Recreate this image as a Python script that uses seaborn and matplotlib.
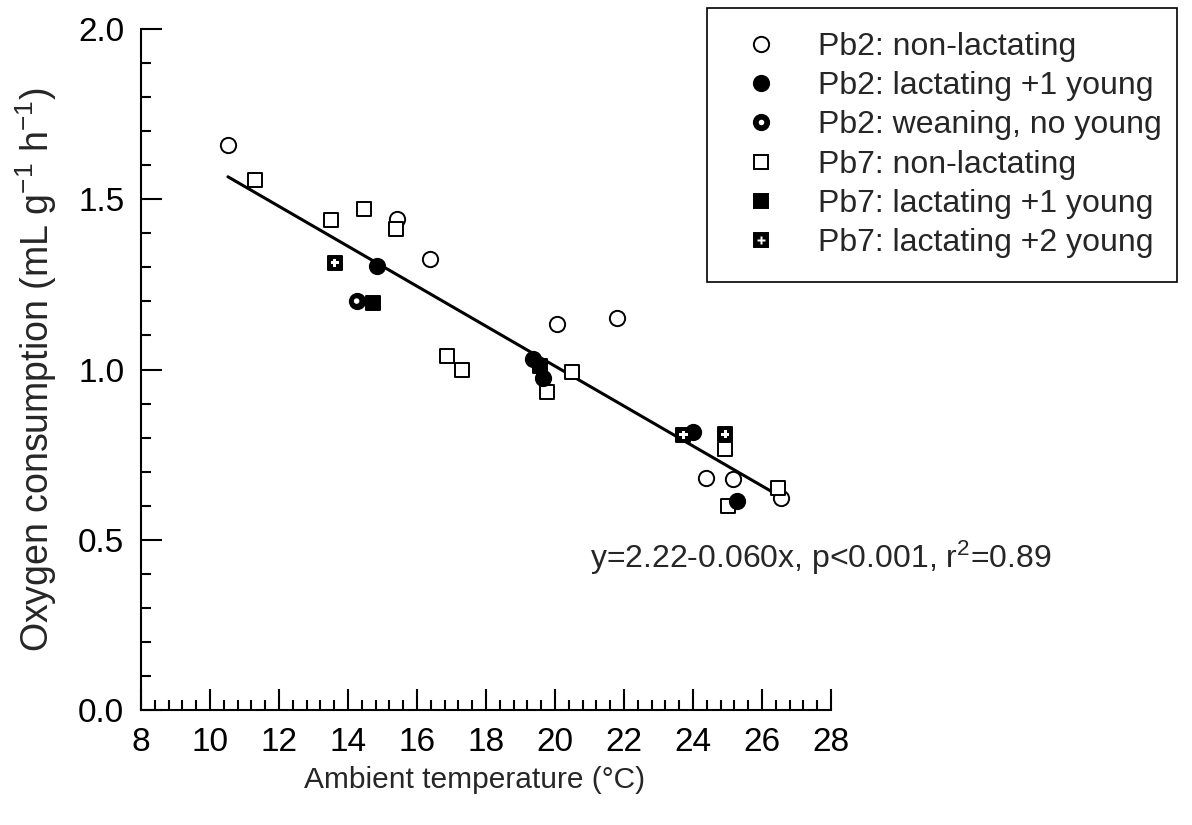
import matplotlib
matplotlib.use("Agg")
import matplotlib.pyplot as plt
from matplotlib.lines import Line2D
from matplotlib.ticker import MultipleLocator
import seaborn as sns
import pandas as pd

# ---------------- data ----------------
pb2_non_x = [10.53, 15.41, 16.38, 20.05, 21.79, 24.37, 25.15, 26.55]
pb2_non_y = [1.659, 1.442, 1.325, 1.134, 1.150, 0.680, 0.678, 0.622]

pb2_lac1_x = [14.83, 19.35, 19.64, 24.01, 25.28]
pb2_lac1_y = [1.305, 1.030, 0.974, 0.816, 0.615]

pb2_wean_x = [14.25]
pb2_wean_y = [1.201]

pb7_non_x = [11.30, 13.51, 14.46, 15.39, 16.86, 17.30, 19.76, 20.50, 24.93, 25.00, 26.47]
pb7_non_y = [1.557, 1.439, 1.471, 1.413, 1.041, 1.000, 0.935, 0.994, 0.766, 0.599, 0.651]

pb7_lac1_x = [14.72, 19.57]
pb7_lac1_y = [1.196, 1.010]

pb7_lac2_x = [13.62, 23.72, 24.93]
pb7_lac2_y = [1.313, 0.808, 0.810]

fit_x = [10.52, 26.46]
fit_y = [1.566, 0.631]

labels = ["Pb2: non-lactating", "Pb2: lactating +1 young", "Pb2: weaning, no young",
          "Pb7: non-lactating", "Pb7: lactating +1 young", "Pb7: lactating +2 young"]

x_ticks = [8, 10, 12, 14, 16, 18, 20, 22, 24, 26, 28]
y_ticks = [0.0, 0.5, 1.0, 1.5, 2.0]
eq_text = r"y=2.22-0.060x, p<0.001, r$\mathregular{^2}$=0.89"

# ---------------- style ----------------
sns.set_style("white")
plt.rcParams["font.family"] = ["Liberation Sans", "DejaVu Sans"]
plt.rcParams["mathtext.fontset"] = "custom"
plt.rcParams["mathtext.rm"] = "Liberation Sans"
plt.rcParams["mathtext.it"] = "Liberation Sans:italic"

TICK_FS = 24
fig = plt.figure(figsize=(11.92, 8.25), dpi=100)
ax = fig.add_axes([141 / 1192, 1 - 710 / 825, (831 - 141) / 1192, (710 - 29) / 825])

S_CIRC = 121
S_SQ = 100
LW = 1.4

def df(x, y):
    return pd.DataFrame({"x": x, "y": y})

# regression line
sns.lineplot(data=df(fit_x, fit_y), x="x", y="y", color="black", lw=2.2, ax=ax,
             zorder=2, estimator=None, sort=False)

# open markers
sns.scatterplot(data=df(pb2_non_x, pb2_non_y), x="x", y="y", marker="o", s=S_CIRC,
                facecolor="white", edgecolor="black", linewidth=LW, ax=ax, zorder=3)
sns.scatterplot(data=df(pb7_non_x, pb7_non_y), x="x", y="y", marker="s", s=S_SQ,
                facecolor="white", edgecolor="black", linewidth=LW, ax=ax, zorder=3)
# filled markers
sns.scatterplot(data=df(pb2_lac1_x, pb2_lac1_y), x="x", y="y", marker="o", s=S_CIRC,
                facecolor="black", edgecolor="black", linewidth=LW, ax=ax, zorder=4)
sns.scatterplot(data=df(pb7_lac1_x, pb7_lac1_y), x="x", y="y", marker="s", s=S_SQ,
                facecolor="black", edgecolor="black", linewidth=LW, ax=ax, zorder=4)
sns.scatterplot(data=df(pb2_wean_x, pb2_wean_y), x="x", y="y", marker="o", s=S_CIRC,
                facecolor="black", edgecolor="black", linewidth=LW, ax=ax, zorder=5)
sns.scatterplot(data=df(pb2_wean_x, pb2_wean_y), x="x", y="y", marker="o", s=16,
                facecolor="white", edgecolor="none", linewidth=0, ax=ax, zorder=6)
sns.scatterplot(data=df(pb7_lac2_x, pb7_lac2_y), x="x", y="y", marker="s", s=S_SQ,
                facecolor="black", edgecolor="black", linewidth=LW, ax=ax, zorder=5)
sns.scatterplot(data=df(pb7_lac2_x, pb7_lac2_y), x="x", y="y", marker="P", s=38,
                facecolor="white", edgecolor="none", linewidth=0, ax=ax, zorder=6)

# axes
ax.set_xlim(x_ticks[0], x_ticks[-1])
ax.set_ylim(y_ticks[0], y_ticks[-1])
ax.set_xticks(x_ticks)
ax.set_xticklabels([str(t) for t in x_ticks])
ax.set_yticks(y_ticks)
ax.set_yticklabels([f"{t:.1f}" for t in y_ticks])
ax.xaxis.set_minor_locator(MultipleLocator(0.4))
ax.yaxis.set_minor_locator(MultipleLocator(0.1))
for side in ["top", "right"]:
    ax.spines[side].set_visible(False)
for side in ["left", "bottom"]:
    ax.spines[side].set_linewidth(1.5)
    ax.spines[side].set_color("black")
ax.tick_params(which="major", direction="in", length=15, width=1.5, labelsize=TICK_FS,
               colors="black")
ax.tick_params(which="minor", direction="in", length=7, width=1.5, colors="black")
ax.tick_params(axis="y", which="major", pad=12)
ax.tick_params(axis="x", which="major", pad=12)
ax.tick_params(bottom=True, left=True, which="both")
ax.set_facecolor("white")
ax.grid(False)

ax.set_xlabel("Ambient temperature (°C)", fontsize=21.5, labelpad=12)
ax.xaxis.set_label_coords((475 - 141) / 690, -0.082, transform=ax.transAxes)
ax.set_ylabel(r"Oxygen consumption (mL g$\mathregular{^{-1}}$ h$\mathregular{^{-1}}$)",
              fontsize=27, labelpad=14)

ax.text(21.0, 0.417, eq_text, fontsize=23, ha="left", va="baseline")

# legend
ms_c, ms_s = 11, 10
h1 = Line2D([], [], ls="none", marker="o", ms=ms_c, mfc="white", mec="black", mew=LW)
h2 = Line2D([], [], ls="none", marker="o", ms=ms_c, mfc="black", mec="black", mew=LW)
h3 = (Line2D([], [], ls="none", marker="o", ms=ms_c, mfc="black", mec="black", mew=LW),
      Line2D([], [], ls="none", marker="o", ms=4, mfc="white", mec="none"))
h4 = Line2D([], [], ls="none", marker="s", ms=ms_s, mfc="white", mec="black", mew=LW)
h5 = Line2D([], [], ls="none", marker="s", ms=ms_s, mfc="black", mec="black", mew=LW)
h6 = (Line2D([], [], ls="none", marker="s", ms=ms_s, mfc="black", mec="black", mew=LW),
      Line2D([], [], ls="none", marker="P", ms=6.2, mfc="white", mec="none"))

leg = fig.legend([h1, h2, h3, h4, h5, h6], labels,
                 loc="upper left", bbox_to_anchor=(707 / 1192, 1 - 8 / 825, 470 / 1192, 0.0),
                 mode="expand", borderaxespad=0, fontsize=23, frameon=True,
                 fancybox=False, shadow=False, framealpha=1, edgecolor="black",
                 borderpad=0.75, handlelength=1.9, handletextpad=0.84, labelspacing=0.29)
leg.get_frame().set_linewidth(1.2)

fig.savefig("out.png", dpi=100, facecolor="white")
